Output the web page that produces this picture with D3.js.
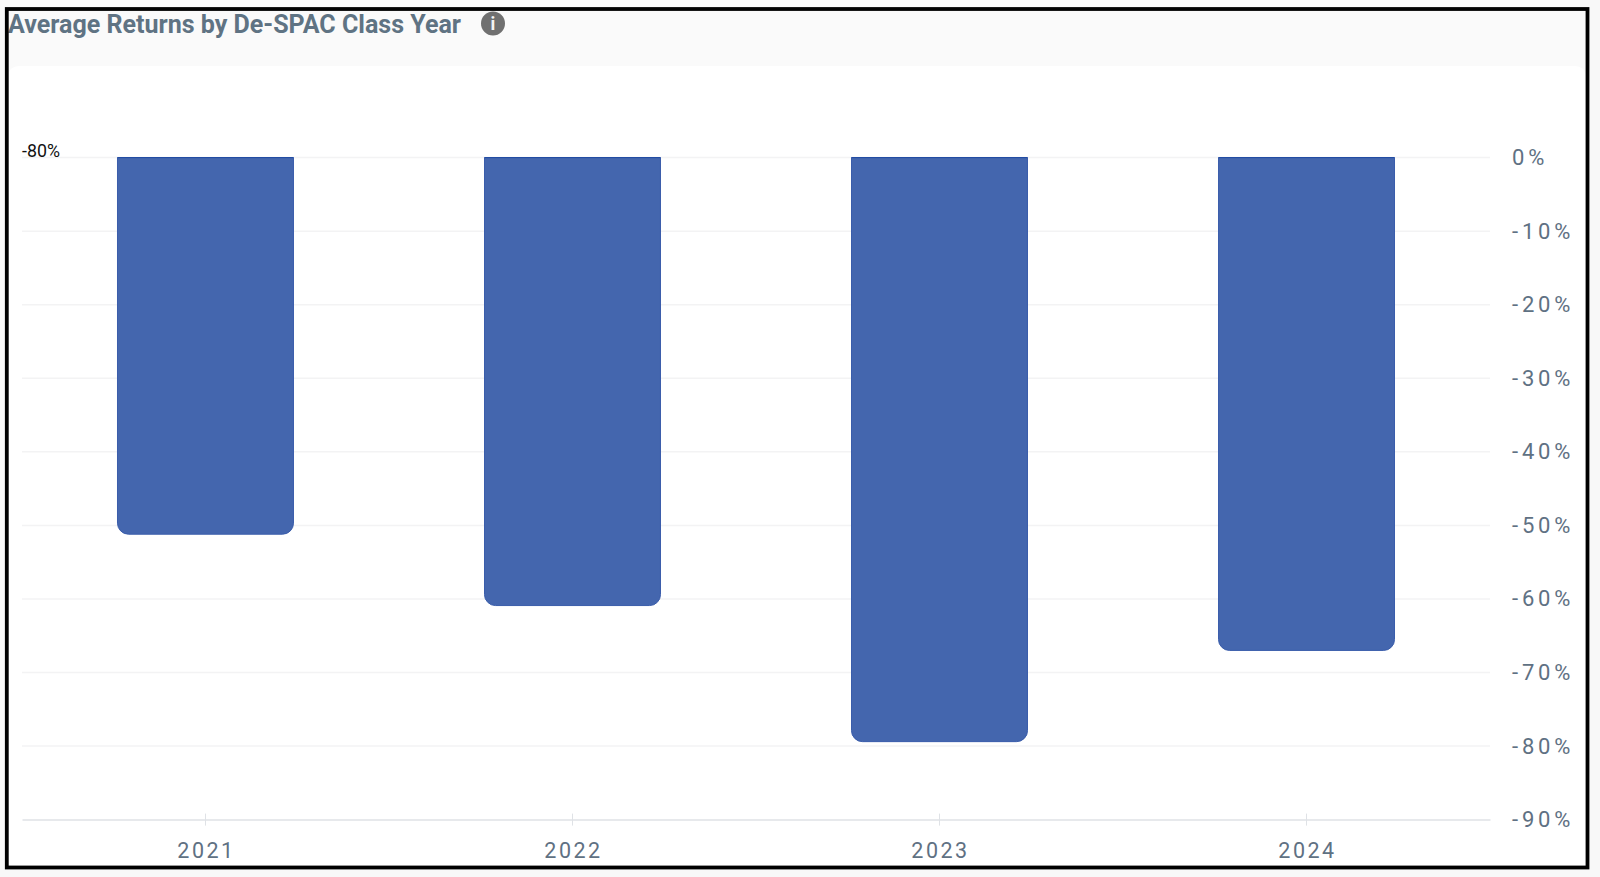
<!DOCTYPE html>
<html><head><meta charset="utf-8">
<script src="https://cdn.jsdelivr.net/npm/d3@7"></script>
<style>
html,body{margin:0;padding:0;background:#fff;overflow:hidden}
svg{display:block}
text{font-family:Roboto,sans-serif}
</style></head><body>
<svg id="c" width="1600" height="877"></svg>
<script>
const categories = ["2021","2022","2023","2024"];
const returnsPct = [-51.2,-60.9,-79.4,-67.0];
const yTicks = [0,-10,-20,-30,-40,-50,-60,-70,-80,-90];
const titleText = "Average Returns by De-SPAC Class Year";
const strayLabel = "-80%";

const svg = d3.select("#c");
svg.append("rect").attr("width",1600).attr("height",877).attr("fill","#f8f8f8");
svg.append("rect").attr("x",7).attr("y",9).attr("width",1581).attr("height",858).attr("fill","#fafafa");
svg.append("path").attr("fill","#fff")
  .attr("d","M8 78 Q8 66 20 66 H1574 Q1586 66 1586 78 V867 H8 Z");

const x = d3.scaleBand().domain(categories).range([22,1490]).paddingInner(0.5205).paddingOuter(0.2602);
const y = d3.scaleLinear().domain([0,-90]).range([157.6,819.6]);

// gridlines
svg.append("g").selectAll("line").data(yTicks.slice(0,-1)).join("line")
  .attr("x1",22).attr("x2",1490).attr("y1",d=>y(d)).attr("y2",d=>y(d))
  .attr("stroke","#f3f3f4").attr("stroke-width",1.5);

// bars
const r = 11;
const bars = svg.append("g");
bars.selectAll("path").data(categories).join("path")
  .attr("fill","#4466ae").attr("stroke","#3a5dab").attr("stroke-width",1)
  .attr("d",(c,i)=>{
    const l=x(c), w=x.bandwidth(), t=y(0), b=y(returnsPct[i]);
    return `M${l} ${t}H${l+w}V${b-r}A${r} ${r} 0 0 1 ${l+w-r} ${b}H${l+r}A${r} ${r} 0 0 1 ${l} ${b-r}Z`;
  });
bars.selectAll("line").data(categories).join("line")
  .attr("x1",c=>x(c)).attr("x2",c=>x(c)+x.bandwidth())
  .attr("y1",y(0)).attr("y2",y(0)).attr("stroke","#1f4aa3").attr("stroke-width",1);

// x axis
const xAxis = svg.append("g").attr("transform",`translate(0,${y(-90)})`)
  .call(d3.axisBottom(x).tickSize(0).tickSizeOuter(0).tickPadding(23));
xAxis.select(".domain").attr("stroke","#dfe2e6").attr("stroke-width",1.5);
xAxis.selectAll(".tick line").attr("y1",-6).attr("y2",6).attr("stroke","#dfe2e6");
xAxis.selectAll("text").attr("font-size",21.5).attr("letter-spacing","2.5px").attr("dx","1px").attr("fill","#5f7183").attr("font-family","Roboto");

// y axis
const yAxis = svg.append("g").attr("transform","translate(1490,0)")
  .call(d3.axisRight(y).tickValues(yTicks).tickSize(0).tickPadding(22).tickFormat(d=>d+"%"));
yAxis.select(".domain").remove();
yAxis.selectAll("text").attr("font-size",22).attr("letter-spacing","3.8px").attr("fill","#5f7183").attr("font-family","Roboto");

// title
svg.append("text").attr("x",8).attr("y",33).attr("font-size",26).attr("font-weight",700)
  .attr("fill","#5f7383").attr("textLength",453).attr("lengthAdjust","spacingAndGlyphs").text(titleText);
// info icon
svg.append("circle").attr("cx",493).attr("cy",23.5).attr("r",12).attr("fill","#707070");
svg.append("text").attr("x",493).attr("y",30).attr("text-anchor","middle").attr("font-size",18).attr("font-weight",700).attr("fill","#f4f4f4").text("i");

svg.append("text").attr("x",22).attr("y",157).attr("font-size",17.8).attr("fill","#111").text(strayLabel);

// frame
svg.append("rect").attr("x",6.8).attr("y",9).attr("width",1580.7).attr("height",858.5)
  .attr("fill","none").attr("stroke","#000").attr("stroke-width",3.8);
</script></body></html>
